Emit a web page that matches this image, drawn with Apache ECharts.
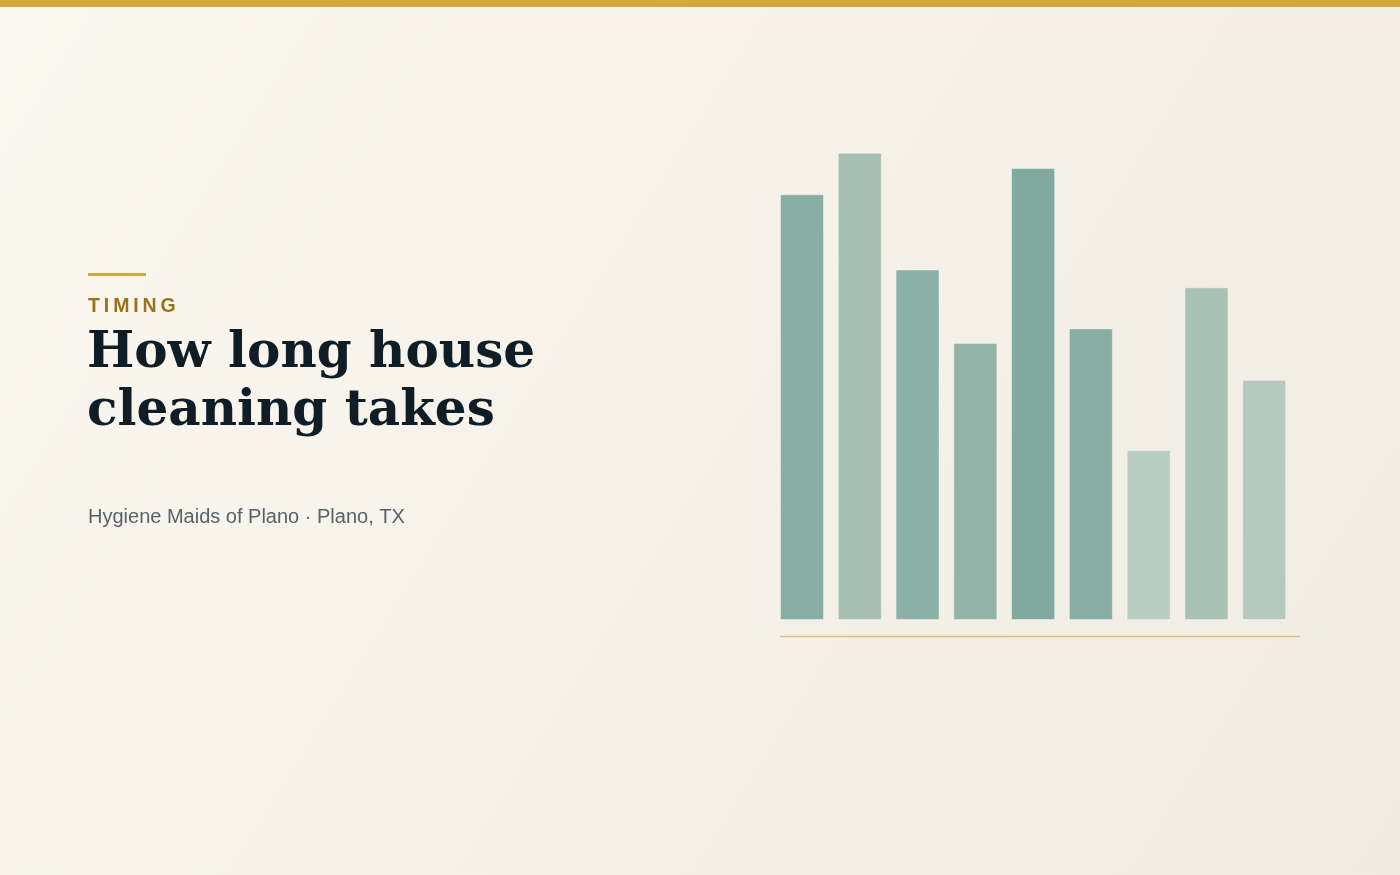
<!DOCTYPE html>
<html>
<head>
<meta charset="utf-8">
<script src="https://cdn.jsdelivr.net/npm/echarts@6/dist/echarts.min.js"></script>
<style>
html,body{margin:0;padding:0;width:1400px;height:875px;overflow:hidden;}
#chart{width:1400px;height:875px;}
</style>
</head>
<body>
<div id="chart"></div>
<script>
const categories = ['1', '2', '3', '4', '5', '6', '7', '8', '9'];
const values = [91.1, 100, 75.0, 59.3, 96.7, 62.4, 36.4, 71.2, 51.4];
const barColors = ['#88ada3', '#a5bfb5', '#8bb0a6', '#91b3a8', '#80aa9f', '#88aea3', '#b9ccc1', '#a8c2b6', '#b5c9bf'];
const eyebrow = 'TIMING';
const titleLines = ['How long house', 'cleaning takes'];
const subtitle = 'Hygiene Maids of Plano · Plano, TX';

const chart = echarts.init(document.getElementById('chart'), null, {renderer: 'canvas'});
const band = 520 / 9;
chart.setOption({
  animation: false,
  backgroundColor: {
    type: 'linear', x: 0, y: 0, x2: 1, y2: 1,
    colorStops: [{offset: 0, color: '#fbf8f1'}, {offset: 1, color: '#f0ebe1'}]
  },
  grid: {left: 780 - (band - 44) / 2, width: 520, top: 152.7, height: 467.3, containLabel: false},
  xAxis: {
    type: 'category', data: categories,
    axisLine: {show: false}, axisTick: {show: false}, axisLabel: {show: false}, splitLine: {show: false}
  },
  yAxis: {
    type: 'value', min: 0, max: 100,
    axisLine: {show: false}, axisTick: {show: false}, axisLabel: {show: false}, splitLine: {show: false}
  },
  series: [{
    type: 'bar',
    barWidth: 44,
    data: values.map((v, i) => ({value: v, itemStyle: {color: barColors[i]}})),
    itemStyle: {borderColor: 'rgba(255,255,255,0.4)', borderWidth: 1}
  }],
  graphic: [
    {type: 'rect', left: 0, top: 0, shape: {width: 1400, height: 7}, style: {fill: '#d4a93b'}},
    {type: 'rect', left: 88, top: 273, shape: {width: 58, height: 3}, style: {fill: '#d4a93b'}},
    {type: 'line', shape: {x1: 780, y1: 636.5, x2: 1300, y2: 636.5}, style: {stroke: '#e0bf73', lineWidth: 1.5}},
    {type: 'text', left: 88, top: 297, style: {text: eyebrow.split('').join('\u2009'), fill: '#9a7318', font: 'bold 19.5px "Liberation Sans", Arial, sans-serif'}},
    {type: 'text', left: 87, top: 325, style: {text: titleLines.join('\n'), fill: '#0f1e26', font: 'bold 50px "DejaVu Serif", Georgia, serif', lineHeight: 58}},
    {type: 'text', left: 88, top: 507, style: {text: subtitle, fill: '#56636a', font: '20px "Liberation Sans", Arial, sans-serif'}}
  ]
});
</script>
</body>
</html>
